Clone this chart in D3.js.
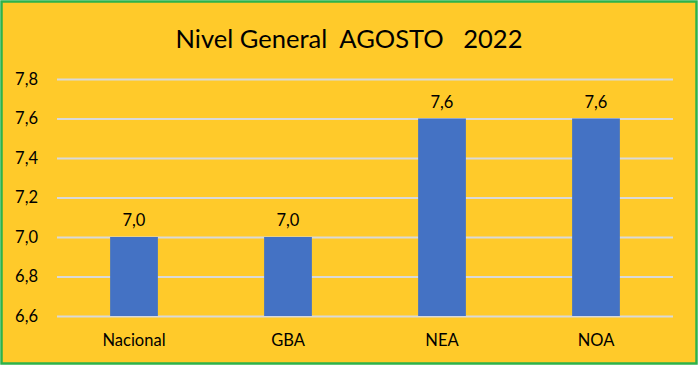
<!DOCTYPE html>
<html><head><meta charset="utf-8">
<script src="https://cdn.jsdelivr.net/npm/d3@7"></script>
<style>html,body{margin:0;padding:0;background:#fff;}svg{display:block;}</style>
</head><body>
<svg id="chart" width="700" height="366"></svg>
<script>
const categories = ["Nacional", "GBA", "NEA", "NOA"];
const values = [7.0, 7.0, 7.6, 7.6];
const yTicks = [6.6, 6.8, 7.0, 7.2, 7.4, 7.6, 7.8];
const title = "Nivel General  AGOSTO   2022";

const svg = d3.select("#chart");
const font = "Lato, 'Carlito', Calibri, sans-serif";
svg.append("rect").attr("x", 1.5).attr("y", 1.5).attr("width", 695).attr("height", 362)
  .attr("fill", "#FFCA2A").attr("stroke", "#2EB24B").attr("stroke-width", 2.5);

const x = d3.scaleBand().domain(categories).range([57, 673]).paddingInner(0.69).paddingOuter(0.345);
const y = d3.scaleLinear().domain([6.6, 7.8]).range([316, 79]);

const fmt = v => d3.format(".1f")(v).replace(".", ",");

const yAxis = d3.axisLeft(y).tickValues(yTicks).tickSize(-616).tickFormat(fmt);
const gy = svg.append("g").attr("transform", "translate(57,0)").call(yAxis);
gy.select(".domain").remove();
gy.selectAll(".tick line").attr("stroke", "#D9D9D9").attr("stroke-width", 2);
gy.selectAll(".tick text").attr("x", -19).attr("fill", "#000").attr("font-family", font).attr("font-size", 16.5);

svg.append("g").selectAll("rect").data(values).join("rect")
  .attr("x", (d, i) => x(categories[i])).attr("width", x.bandwidth())
  .attr("y", d => y(d)).attr("height", d => y(6.6) - y(d)).attr("fill", "#4472C4");

svg.append("g").selectAll("text").data(values).join("text")
  .attr("x", (d, i) => x(categories[i]) + x.bandwidth() / 2)
  .attr("y", d => y(d) - 11)
  .attr("text-anchor", "middle").attr("font-family", font).attr("font-size", 16.5).attr("fill", "#000")
  .text(fmt);

const xAxis = d3.axisBottom(x).tickSize(0).tickPadding(0);
const gx = svg.append("g").attr("transform", "translate(0,316)").call(xAxis);
gx.select(".domain").remove();
gx.selectAll(".tick text").attr("dy", 0).attr("y", 30).attr("fill", "#000").attr("font-family", font).attr("font-size", 16.5);

svg.append("text").attr("x", 349).attr("y", 48).attr("text-anchor", "middle")
  .attr("font-family", font).attr("font-size", 25.5).attr("fill", "#000")
  .style("white-space", "pre").attr("xml:space", "preserve").text(title);
</script>
</body></html>
